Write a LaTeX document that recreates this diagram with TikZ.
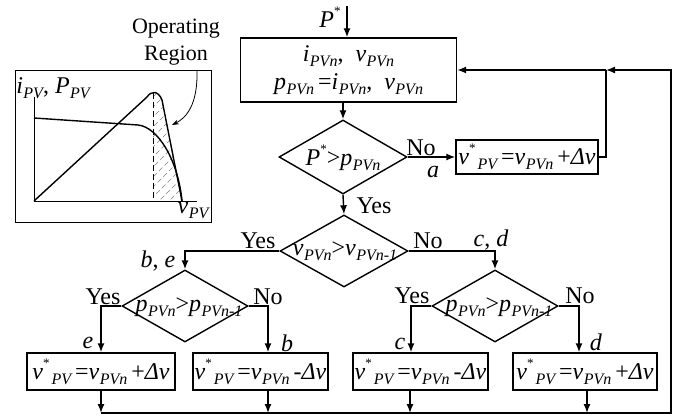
\documentclass[tikz,border=0pt]{standalone}
\usepackage{fontspec}
\setmainfont{Liberation Serif}
\usetikzlibrary{arrows.meta,shapes.geometric}
\newcommand\sbs[1]{\raisebox{-0.2em}{\fontsize{16}{16}\selectfont\itshape #1}}
\newcommand\vr[2]{\textit{#1}\kern0.5pt\sbs{#2}}
\newcommand\str{\raisebox{0.5em}{\fontsize{13}{13}\selectfont *}}
\newcommand\vstar{\textit{v}\str\kern2pt\sbs{PV}}
\tikzset{
  pbox/.style={draw, rectangle, inner sep=0pt, align=center},
  dia/.style={draw, diamond, inner sep=0pt},
  lab/.style={inner sep=0pt},
  thinl/.style={line width=0.9pt},
}
\begin{document}
\begin{tikzpicture}[x=1pt,y=-1pt,line width=1.4pt,
  font=\fontsize{24}{28}\selectfont,
  >={Latex[length=9pt,width=7pt]}]
\useasboundingbox (0,0) rectangle (689,420);

% ---------- inset graph ----------
\node[draw, thinl, minimum width=196pt, minimum height=152pt, inner sep=0pt] (inset) at (113,146) {};
\coordinate (O) at (34,201);
\coordinate (ytop) at (34,97);
\coordinate (xend) at (197,201);
\draw[thinl] (ytop) -- (O) -- (xend);
\begin{scope}
  \clip (153,201) -- (153,92) -- (158,92) -- (162,100) -- (182,201) -- cycle;
  \foreach \k in {0,...,15}
    \draw[gray, line width=0.6pt, dash pattern=on 5pt off 3pt] (45+\k*10,205) -- ++(112,-112);
\end{scope}
\draw[thinl, dash pattern=on 6pt off 3pt] (153,93) -- (153,201);
\draw (O) -- (147,97) .. controls (151,91) and (158,90) .. (162,100) -- (182,201);
\draw (34,118) -- (138,125) .. controls (158,127) and (178,160) .. (182,201);
\node[lab] (ilab) at (53,88) {\vr{i}{PV}, \vr{P}{PV}};
\node[lab] (vlab) at (193,211) {\vr{v}{PV}};
\node[lab, align=center, font=\fontsize{22}{27}\selectfont] (oplab) at (176,42) {Operating\\Region};
\coordinate (opstart) at (197,70);
\coordinate (opend) at (172,125);
\draw[line width=0.8pt, -{Stealth[length=7pt,width=5pt]}] (opstart) .. controls (198,105) and (186,118) .. (opend);

% ---------- flowchart ----------
\node[pbox, minimum width=216pt, minimum height=64pt] (b1) at (348.5,70)
  {\vr{i}{PVn},\ \ \vr{v}{PVn}\\ \vr{p}{PVn}\,=\vr{i}{PVn},\ \ \vr{v}{PVn}};
\node[dia, minimum width=128pt, minimum height=74pt] (d1) at (343,157) {};
\node[lab] (d1t) at (343,158) {\textit{P}\str>\vr{p}{PVn}};
\node[pbox, minimum width=142pt, minimum height=34pt] (b2) at (527,157)
  {\vstar\,=\vr{v}{PVn}\,+\textit{Δv}};
\node[dia, minimum width=128pt, minimum height=72pt] (d2) at (344,251) {};
\node[lab] (d2t) at (345,251) {\vr{v}{PVn}>\vr{v}{PVn-1}};
\node[dia, minimum width=126pt, minimum height=72pt] (d3) at (185,306) {};
\node[lab] (d3t) at (189,307) {\vr{p}{PVn}>\vr{p}{PVn-1}};
\node[dia, minimum width=126pt, minimum height=72pt] (d4) at (495,306) {};
\node[lab] (d4t) at (499,307) {\vr{p}{PVn}>\vr{p}{PVn-1}};
\node[pbox, minimum width=148pt, minimum height=37pt] (b3) at (101,371.5)
  {\vstar\,=\vr{v}{PVn}\,+\textit{Δv}};
\node[pbox, minimum width=135pt, minimum height=37pt] (b4) at (260.5,371.5)
  {\vstar\,=\vr{v}{PVn}\,-\textit{Δv}};
\node[pbox, minimum width=135pt, minimum height=37pt] (b5) at (420.5,371.5)
  {\vstar\,=\vr{v}{PVn}\,-\textit{Δv}};
\node[pbox, minimum width=144pt, minimum height=37pt] (b6) at (585,371.5)
  {\vstar\,=\vr{v}{PVn}\,+\textit{Δv}};

% labels
\node[lab] (pstar) at (330,17) {\textit{P}\str};
\node[lab] (no1) at (421,148) {No};
\node[lab] (a1) at (433,172) {\textit{a}};
\node[lab] (yes1) at (374,206) {Yes};
\node[lab] (yes2) at (258,241) {Yes};
\node[lab] (no2) at (428,241) {No};
\node[lab] (be) at (158,261) {\textit{b}, \textit{e}};
\node[lab] (cd) at (491,240) {\textit{c}, \textit{d}};
\node[lab] (yes3) at (103,297) {Yes};
\node[lab] (no3) at (268,297) {No};
\node[lab] (e1) at (88,343) {\textit{e}};
\node[lab] (b1l) at (287,343) {\textit{b}};
\node[lab] (yes4) at (412,296) {Yes};
\node[lab] (no4) at (580,296) {No};
\node[lab] (c1) at (400,344) {\textit{c}};
\node[lab] (d1l) at (596,342) {\textit{d}};

% connectors
\coordinate (pin) at (347,6);
\draw[->] (pin) -- (pin |- b1.north);
\draw[->] (d1.north |- b1.south) -- (d1.north);
\draw[->] (d1.east) -- (b2.west);
\draw[->] (d1.south) -- (d2.north);
\coordinate (j) at (606,70);
\draw (b2.east) -| (j);
\draw[->] (j) -- (j -| b1.east);
\draw[->] (d2.west) -| (d3.north);
\draw[->] (d2.east) -| (d4.north);
\draw[->] (d3.west) -| (b3.north);
\draw[->] (d3.east) -| ([xshift=7.5pt]b4.north);
\draw[->] (d4.west) -| ([xshift=-9.5pt]b5.north);
\draw[->] (d4.east) -| ([xshift=-6pt]b6.north);
\coordinate (bl) at (101,413);
\coordinate (br) at (671,413);
\draw[->] (bl) -- (br) |- (j);
\draw[->] (b3.south) -- (b3.south |- bl);
\draw[->] ([xshift=7.5pt]b4.south) -- ([xshift=7.5pt]b4.south |- bl);
\draw[->] ([xshift=-10.5pt]b5.south) -- ([xshift=-10.5pt]b5.south |- bl);
\draw[->] ([xshift=2pt]b6.south) -- ([xshift=2pt]b6.south |- bl);
\end{tikzpicture}
\end{document}
